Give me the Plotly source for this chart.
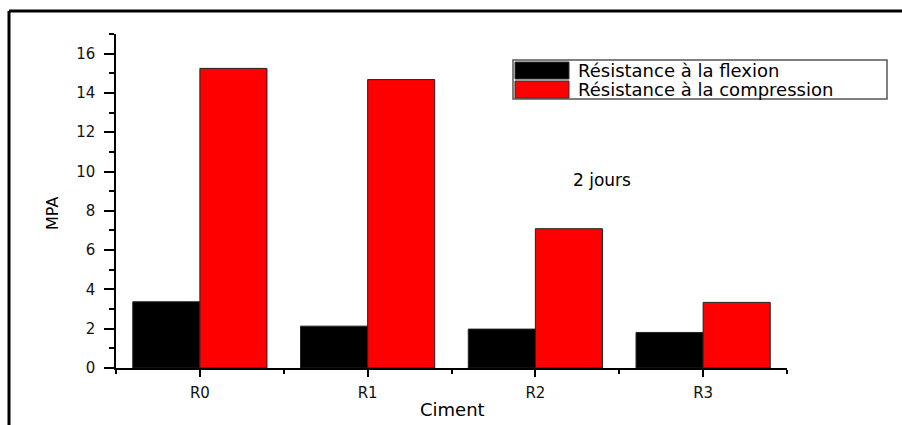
import plotly.graph_objects as go

# ---- data ----
categories = ["R0", "R1", "R2", "R3"]
flexion = [3.37, 2.13, 1.98, 1.81]
compression = [15.25, 14.68, 7.09, 3.34]
name_flex = "Résistance à la flexion"
name_comp = "Résistance à la compression"
x_title = "Ciment"
y_title = "MPA"
note = "2 jours"
y_tickvals = [0, 2, 4, 6, 8, 10, 12, 14, 16]

# ---- layout constants (pixels) ----
W, H = 902, 425
L, R, T, B = 116, 115, 34, 57
PW, PH = W - L - R, H - T - B
FONT = "DejaVu Sans"


def px(x):
    return (x - L) / PW


def py(y):
    return (H - B - y) / PH


xs = list(range(len(categories)))

fig = go.Figure()
fig.add_trace(go.Bar(x=xs, y=flexion, name=name_flex,
                     marker=dict(color="#000000", line=dict(color="#222222", width=1))))
fig.add_trace(go.Bar(x=xs, y=compression, name=name_comp,
                     marker=dict(color="#ff0000", line=dict(color="#222222", width=1))))

shapes = [
    # outer frame lines (top and left)
    dict(type="line", xref="paper", yref="paper", x0=px(9), x1=px(905), y0=py(11), y1=py(11),
         line=dict(color="black", width=3)),
    dict(type="line", xref="paper", yref="paper", x0=px(9), x1=px(9), y0=py(11), y1=py(428),
         line=dict(color="black", width=3)),
    # legend box
    dict(type="rect", xref="paper", yref="paper", x0=px(513), x1=px(887), y0=py(60), y1=py(99),
         line=dict(color="#555555", width=1.5), fillcolor="white"),
    dict(type="rect", xref="paper", yref="paper", x0=px(515), x1=px(569), y0=py(62), y1=py(79),
         line=dict(color="#333333", width=1), fillcolor="#000000"),
    dict(type="rect", xref="paper", yref="paper", x0=px(515), x1=px(569), y0=py(81), y1=py(98),
         line=dict(color="#333333", width=1), fillcolor="#ff0000"),
]

annotations = [
    dict(text=name_flex, xref="paper", yref="paper", x=px(576), y=py(70.5),
         xanchor="left", yanchor="middle", showarrow=False,
         font=dict(family=FONT, size=18, color="black")),
    dict(text=name_comp, xref="paper", yref="paper", x=px(576), y=py(89.5),
         xanchor="left", yanchor="middle", showarrow=False,
         font=dict(family=FONT, size=18, color="black")),
    dict(text=note, xref="paper", yref="paper", x=px(602), y=py(180),
         xanchor="center", yanchor="middle", showarrow=False,
         font=dict(family=FONT, size=17, color="black")),
    dict(text=x_title, xref="paper", yref="paper", x=px(452), y=py(409),
         xanchor="center", yanchor="middle", showarrow=False,
         font=dict(family=FONT, size=18, color="black")),
    dict(text=y_title, xref="paper", yref="paper", x=px(52), y=py(214),
         xanchor="center", yanchor="middle", showarrow=False, textangle=-90,
         font=dict(family=FONT, size=16, color="black")),
]

fig.update_layout(
    width=W, height=H,
    margin=dict(l=L, r=R, t=T, b=B, pad=0),
    paper_bgcolor="white", plot_bgcolor="white",
    barmode="group", bargap=0.2, bargroupgap=0,
    showlegend=False,
    shapes=shapes,
    annotations=annotations,
    font=dict(family=FONT, size=14, color="#111111"),
)

fig.update_xaxes(
    range=[-0.5, 3.5], tickmode="array", tickvals=xs, ticktext=categories,
    showline=True, linecolor="black", linewidth=1.5, showgrid=False, zeroline=False,
    ticks="outside", ticklen=7, tickwidth=1.5, tickcolor="black",
    minor=dict(tickvals=[-0.5, 0.5, 1.5, 2.5, 3.5], ticks="outside", ticklen=4,
               tickwidth=1.5, tickcolor="black", showgrid=False),
    tickfont=dict(family=FONT, size=15, color="#111111"),
    ticklabelstandoff=3,
    fixedrange=True,
)
fig.update_yaxes(
    range=[0, 17], tickmode="array", tickvals=y_tickvals,
    showline=True, linecolor="black", linewidth=1.5, showgrid=False, zeroline=False,
    ticks="outside", ticklen=10, tickwidth=1.5, tickcolor="black",
    minor=dict(dtick=1, tick0=0, ticks="outside", ticklen=5, tickwidth=1.5,
               tickcolor="black", showgrid=False),
    tickfont=dict(family=FONT, size=15, color="#111111"),
    ticklabelstandoff=6,
    fixedrange=True,
)

fig.write_html(
    "out.html",
    config={"displayModeBar": False},
    post_script="document.body.style.margin='0';document.body.style.overflow='hidden';",
)
